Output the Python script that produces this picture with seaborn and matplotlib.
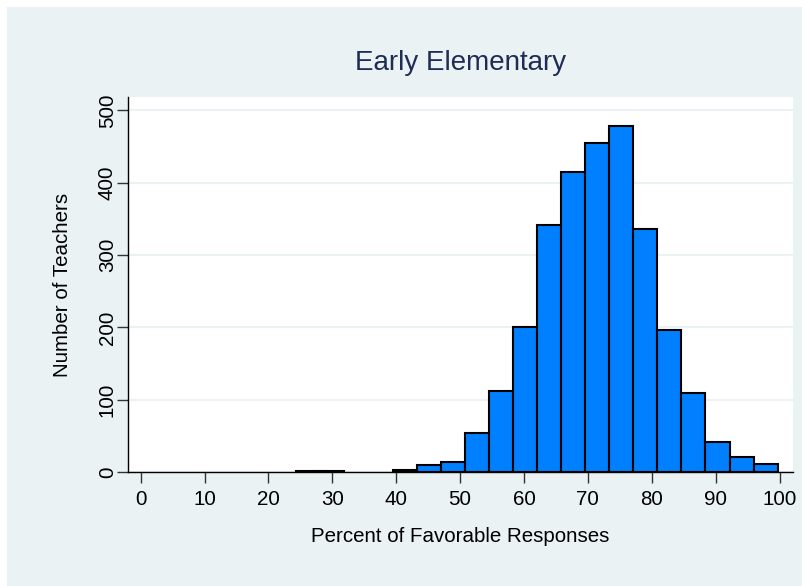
import numpy as np
import matplotlib
matplotlib.use("Agg")
import matplotlib.pyplot as plt
import seaborn as sns
from matplotlib.patches import Rectangle

# Data
bin_edges = list(np.linspace(24.35, 99.7, 21))
counts = [1, 1, 0, 0, 3, 9, 14, 54, 112, 200, 341, 415, 455, 479, 336, 196, 109, 42, 21, 11]
x_ticks = [0, 10, 20, 30, 40, 50, 60, 70, 80, 90, 100]
y_ticks = [0, 100, 200, 300, 400, 500]
title = "Early Elementary"
x_label = "Percent of Favorable Responses"
y_label = "Number of Teachers"

centers = [(bin_edges[i] + bin_edges[i + 1]) / 2 for i in range(len(counts))]

sns.set_theme(style="white")
plt.rcParams['font.family'] = ['Liberation Sans', 'DejaVu Sans']

W, H = 802, 586
fig = plt.figure(figsize=(W / 100, H / 100), dpi=100)
fig.patch.set_facecolor("white")
panel_col = "#EAF2F3"
fig.patches.append(Rectangle((7 / W, 0), 1 - 7 / W, 1 - 7 / H, transform=fig.transFigure,
                             facecolor=panel_col, edgecolor="none", zorder=-10))

left, right, top, bottom = 128, 793, 97, 472
ax = fig.add_axes([left / W, 1 - bottom / H, (right - left) / W, (bottom - top) / H])
ax.set_facecolor("white")

sns.histplot(x=centers, weights=counts, bins=bin_edges, ax=ax,
             color="#0080FF", edgecolor="black", linewidth=1.5, alpha=1.0, zorder=3)
# hide outlines of empty bins
for p in ax.patches:
    if p.get_height() == 0:
        p.set_visible(False)

ax.set_xlim(-1.98, 102.1)
ax.set_ylim(0, 518.6)
ax.set_xticks(x_ticks)
ax.set_yticks(y_ticks)
ax.set_yticklabels([str(v) for v in y_ticks], rotation=90, va="center")
ax.yaxis.grid(True, color=panel_col, linewidth=1.5, zorder=0)
ax.xaxis.grid(False)
ax.set_axisbelow(True)

for s in ["top", "right"]:
    ax.spines[s].set_visible(False)
for s in ["left", "bottom"]:
    ax.spines[s].set_color("black")
    ax.spines[s].set_linewidth(1.0)

fs = 14.8
ax.tick_params(axis="both", which="major", direction="out", length=8, width=1,
               color="#333333", labelsize=fs, labelcolor="black", bottom=True, left=True)
ax.tick_params(axis="x", pad=5)
ax.tick_params(axis="y", pad=0)

ax.set_xlabel(x_label, fontsize=fs, color="black")
ax.xaxis.label.set_va("center")
ax.xaxis.set_label_coords(0.5, (472 - 537) / 375)
ax.set_ylabel(y_label, fontsize=fs, color="black")
ax.yaxis.label.set_va("center")
ax.yaxis.set_label_coords((62 - 128) / 665, 0.5)
ax.set_title(title, fontsize=20, color="#1F2D56", y=(472 - 63) / 375, pad=0, va="center")

fig.savefig("out.png", dpi=100, facecolor=fig.get_facecolor())
